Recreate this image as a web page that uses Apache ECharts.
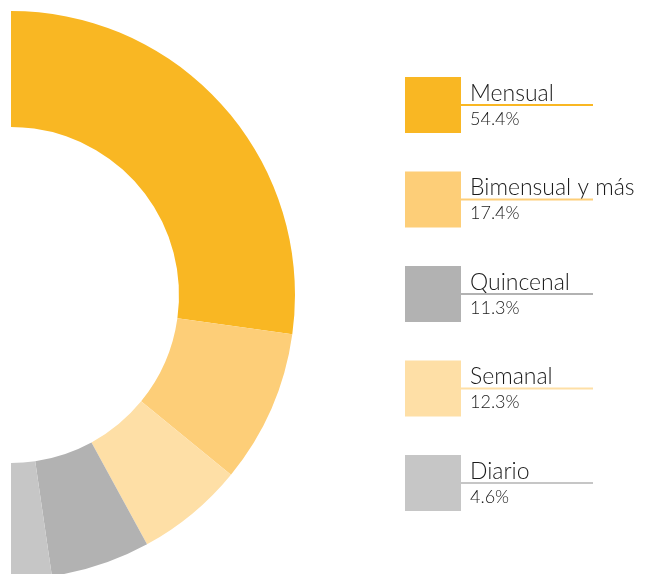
<!DOCTYPE html>
<html>
<head>
<meta charset="utf-8">
<script src="https://cdn.jsdelivr.net/npm/echarts@6/dist/echarts.min.js"></script>
<style>
  html, body { margin: 0; padding: 0; background: #fff; }
  #chart { width: 650px; height: 574px; }
</style>
</head>
<body>
<div id="chart"></div>
<script>
// legend order
var categories = ['Mensual', 'Bimensual y más', 'Quincenal', 'Semanal', 'Diario'];
var values = [54.4, 17.4, 11.3, 12.3, 4.6];
var colors = ['#F9B723', '#FDCE78', '#B2B2B2', '#FEDFA6', '#C6C6C6'];
// order of the slices round the ring (top -> bottom)
var pieOrder = ['Mensual', 'Bimensual y más', 'Semanal', 'Quincenal', 'Diario'];

var myChart = echarts.init(document.getElementById('chart'));

var pieData = pieOrder.map(function (name) {
    var i = categories.indexOf(name);
    return { name: name, value: values[i], itemStyle: { color: colors[i] } };
});

// legend drawn by hand: square, name, underline, percentage
var graphics = [];
categories.forEach(function (name, i) {
    var y = 77 + i * 94.5;
    graphics.push({
        type: 'rect', left: 405, top: y,
        shape: { width: 56, height: 56 },
        style: { fill: colors[i] }
    });
    graphics.push({
        type: 'text', left: 470, top: y + 5,
        style: { text: name, fill: '#1a1a1a', font: '300 23px "Lato", "Noto Sans", sans-serif' }
    });
    graphics.push({
        type: 'line',
        shape: { x1: 461, y1: y + 28, x2: 593, y2: y + 28 },
        style: { stroke: colors[i], lineWidth: 2 }
    });
    graphics.push({
        type: 'text', left: 470, top: y + 33,
        style: { text: values[i].toFixed(1) + '%', fill: '#1a1a1a', font: '300 18px "Lato", "Noto Sans", sans-serif' }
    });
});

var option = {
    animation: false,
    series: [{
        type: 'pie',
        center: [11, 295],
        radius: [168, 284],
        startAngle: 90,
        endAngle: -90,
        clockwise: true,
        label: { show: false },
        labelLine: { show: false },
        emphasis: { disabled: true },
        itemStyle: { borderWidth: 0 },
        data: pieData
    }],
    graphic: graphics
};
myChart.setOption(option);
</script>
</body>
</html>
